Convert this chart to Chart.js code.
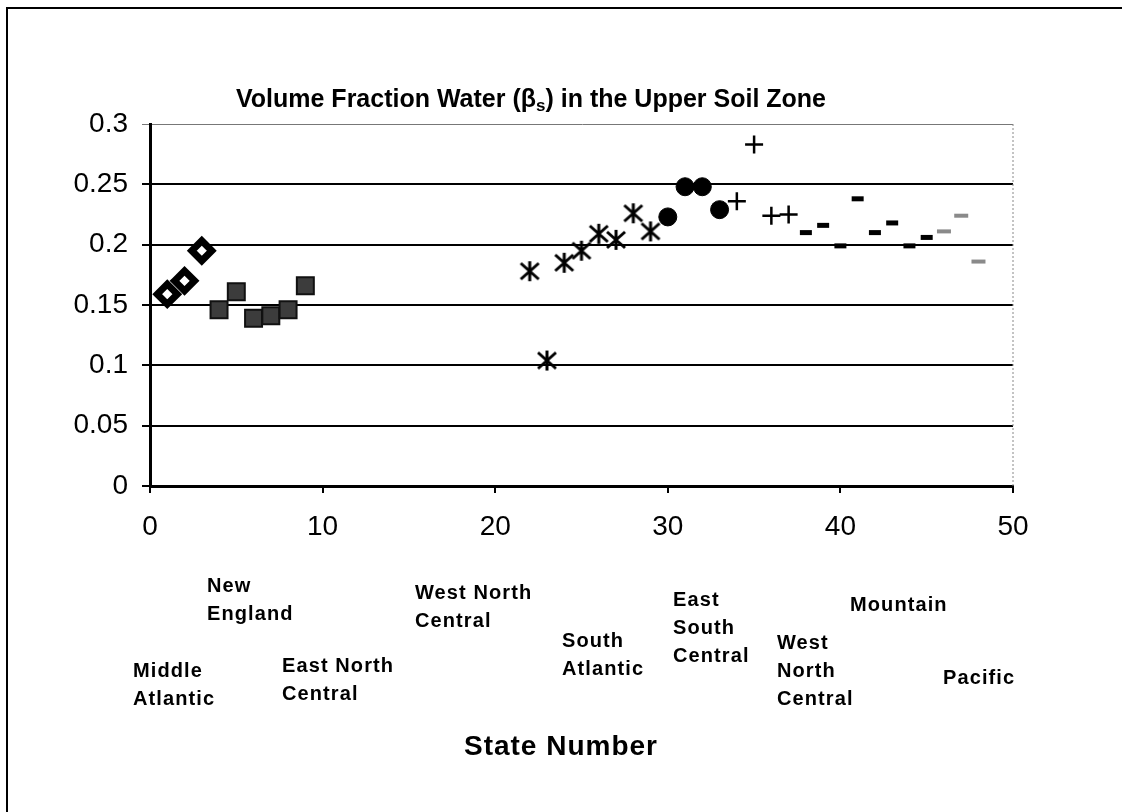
<!DOCTYPE html>
<html>
<head>
<meta charset="utf-8">
<script src="https://cdn.jsdelivr.net/npm/chart.js@4.4.1/dist/chart.umd.min.js"></script>
<style>
  html, body { margin: 0; padding: 0; background: #fff; }
  #wrap { position: relative; width: 1122px; height: 812px; overflow: hidden; font-family: "Liberation Sans", Arial, sans-serif; color: #000; }
  #frame { position: absolute; left: 6px; top: 7px; right: -4px; bottom: -4px; border-left: 2px solid #000; border-top: 2px solid #000; }
  #chart { position: absolute; left: 0; top: 0; }
  .title { position: absolute; top: 83px; left: 0; width: 1062px; text-align: center; font-weight: bold; font-size: 25px; line-height: 30px; }
  .title sub { font-size: 17px; vertical-align: -4px; line-height: 0; }
  .axis-title { position: absolute; top: 729px; left: 0; width: 1122px; text-align: center; font-weight: bold; font-size: 28px; line-height: 34px; letter-spacing: 1px; }
  .region { position: absolute; font-weight: bold; font-size: 20px; line-height: 28px; letter-spacing: 1.1px; white-space: nowrap; }
</style>
</head>
<body>
<div id="wrap">
  <div id="frame"></div>
  <canvas id="chart" width="1122" height="812"></canvas>
  <div class="title">Volume Fraction Water (β<sub>s</sub>) in the Upper Soil Zone</div>
  <div class="axis-title">State Number</div>
</div>
<script>
// state numbers and volume fraction values
const middleAtlanticX = [1, 2, 3];
const middleAtlanticY = [0.159, 0.170, 0.195];

const newEnglandX = [4, 5, 6, 7, 8, 9];
const newEnglandY = [0.146, 0.161, 0.139, 0.141, 0.146, 0.166];

const southAtlanticX = [22, 23, 24, 25, 26, 27, 28, 29];
const southAtlanticY = [0.178, 0.104, 0.185, 0.195, 0.209, 0.204, 0.226, 0.211];

const eastSouthCentralX = [30, 31, 32, 33];
const eastSouthCentralY = [0.223, 0.248, 0.248, 0.229];

const westNorthCentralX = [34, 35, 36, 37];
const westNorthCentralY = [0.236, 0.283, 0.224, 0.225];

const mountainX = [38, 39, 40, 41, 42, 43, 44, 45];
const mountainY = [0.210, 0.216, 0.199, 0.238, 0.210, 0.218, 0.199, 0.206];

const pacificX = [46, 47, 48];
const pacificY = [0.211, 0.224, 0.186];

const yTicks = [0, 0.05, 0.1, 0.15, 0.2, 0.25, 0.3];
const xTicks = [0, 10, 20, 30, 40, 50];

// region names written under the axis
const regionNames = [
  'New\nEngland', 'West North\nCentral', 'Middle\nAtlantic', 'East North\nCentral',
  'South\nAtlantic', 'East\nSouth\nCentral', 'West\nNorth\nCentral', 'Mountain', 'Pacific'
];
const regionSpots = [
  [207, 571], [415, 578], [133, 656], [282, 651],
  [562, 626], [673, 585], [777, 628], [850, 590], [943, 663]
];

const wrap = document.getElementById('wrap');
regionNames.forEach((name, i) => {
  const d = document.createElement('div');
  d.className = 'region';
  d.style.left = regionSpots[i][0] + 'px';
  d.style.top = regionSpots[i][1] + 'px';
  d.innerHTML = name.split('\n').join('<br>');
  wrap.appendChild(d);
});

function pts(xs, ys) {
  return xs.map((x, i) => ({ x: x, y: ys[i] }));
}

// asterisk marker: an X with a vertical stroke
function asterisk() {
  const c = document.createElement('canvas');
  c.width = 24; c.height = 24;
  const g = c.getContext('2d');
  g.strokeStyle = '#000';
  g.lineWidth = 3;
  g.beginPath();
  g.moveTo(3, 4); g.lineTo(21, 20);
  g.moveTo(21, 4); g.lineTo(3, 20);
  g.moveTo(12, 2); g.lineTo(12, 22);
  g.stroke();
  return c;
}

const plotEdge = {
  id: 'plotEdge',
  afterDraw(chart) {
    const a = chart.chartArea, g = chart.ctx;
    g.save();
    g.strokeStyle = '#888';
    g.lineWidth = 1;
    g.setLineDash([2, 2]);
    g.beginPath();
    g.moveTo(a.right, a.top);
    g.lineTo(a.right, a.bottom);
    g.stroke();
    g.restore();
  }
};

const tickFont = { family: '"Liberation Sans", Arial, sans-serif', size: 28 };

new Chart(document.getElementById('chart'), {
  type: 'scatter',
  data: {
    datasets: [
      { data: pts(middleAtlanticX, middleAtlanticY), pointStyle: 'rectRot', radius: 10, backgroundColor: '#fff', borderColor: '#000', borderWidth: 7 },
      { data: pts(newEnglandX, newEnglandY), pointStyle: 'rect', radius: 12, backgroundColor: '#3c3c3c', borderColor: '#111', borderWidth: 2 },
      { data: pts(southAtlanticX, southAtlanticY), pointStyle: asterisk(), radius: 12 },
      { data: pts(eastSouthCentralX, eastSouthCentralY), pointStyle: 'circle', radius: 9, backgroundColor: '#000', borderColor: '#000', borderWidth: 1 },
      { data: pts(westNorthCentralX, westNorthCentralY), pointStyle: 'cross', radius: 9, borderColor: '#000', borderWidth: 2.5 },
      { data: pts(mountainX, mountainY), pointStyle: 'line', radius: 6, borderColor: '#000', borderWidth: 5 },
      { data: pts(pacificX, pacificY), pointStyle: 'line', radius: 7, borderColor: '#8a8a8a', borderWidth: 4 }
    ]
  },
  options: {
    responsive: false,
    animation: false,
    layout: { padding: { left: 0, top: 124, right: 109, bottom: 0 } },
    plugins: { legend: { display: false }, tooltip: { enabled: false } },
    scales: {
      x: {
        type: 'linear',
        min: 0,
        max: 50,
        afterFit: s => { s.height = 326; },
        afterBuildTicks: s => { s.ticks = xTicks.map(v => ({ value: v })); },
        border: { color: '#000', width: 3 },
        grid: { drawOnChartArea: false, color: '#000', tickLength: 7, lineWidth: 2 },
        ticks: { color: '#000', font: tickFont, padding: 17, maxRotation: 0 }
      },
      y: {
        min: 0,
        max: 0.3,
        afterFit: s => { s.width = 150; },
        afterBuildTicks: s => { s.ticks = yTicks.map(v => ({ value: v })); },
        border: { color: '#000', width: 3 },
        grid: {
          color: c => (c.tick && c.tick.value === 0.3 ? '#777' : '#000'),
          lineWidth: c => (c.tick && c.tick.value === 0.3 ? 1 : 2),
          tickLength: 8
        },
        ticks: { color: '#000', font: tickFont, padding: 14, callback: v => String(+v.toFixed(2)) }
      }
    }
  },
  plugins: [plotEdge]
});
</script>
</body>
</html>
